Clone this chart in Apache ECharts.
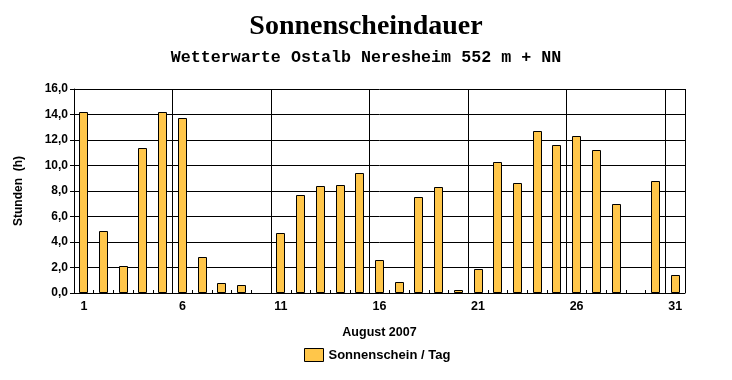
<!DOCTYPE html>
<html>
<head>
<meta charset="utf-8">
<script src="https://cdn.jsdelivr.net/npm/echarts@6/dist/echarts.min.js"></script>
<style>html,body{margin:0;padding:0;background:#fff}#c{width:732px;height:380px}</style>
</head>
<body>
<div id="c"></div>
<script>
var days = ['1','2','3','4','5','6','7','8','9','10','11','12','13','14','15','16','17','18','19','20','21','22','23','24','25','26','27','28','29','30','31'];
var sunshine = [14.2,4.9,2.1,11.4,14.2,13.7,2.8,0.8,0.6,0,4.7,7.7,8.4,8.5,9.4,2.6,0.9,7.5,8.3,0.2,1.9,10.3,8.6,12.7,11.6,12.3,11.2,7.0,0,8.8,1.4];
var yTicks = [0,2,4,6,8,10,12,14,16];

var barColor = '#FFC64A';

var barData = [];
sunshine.forEach(function (v, i) { if (v > 0) barData.push([i, v]); });

function renderBar(params, api) {
  var top = api.coord([api.value(0), api.value(1)]);
  var base = api.coord([api.value(0), 0]);
  var xl = Math.round(top[0] - 4.5) + 0.5;
  var yt = Math.round(top[1]) + 0.5;
  var yb = Math.round(base[1]) - 0.5;
  return {
    type: 'rect',
    shape: {x: xl, y: yt, width: 8, height: Math.max(yb - yt, 1)},
    style: {fill: barColor, stroke: '#000', lineWidth: 1}
  };
}

var chart = echarts.init(document.getElementById('c'));
chart.setOption({
  backgroundColor: '#fff',
  animation: false,
  title: [{
    text: 'Sonnenscheindauer',
    left: 'center', top: 8,
    textStyle: {fontFamily: 'Liberation Serif', fontWeight: 'bold', fontSize: 28, color: '#000'}
  }, {
    text: 'Wetterwarte Ostalb Neresheim 552 m + NN',
    left: 'center', top: 44,
    textStyle: {fontFamily: 'Liberation Mono', fontWeight: 'bold', fontSize: 16.7, color: '#000'}
  }],
  legend: {
    bottom: 13, left: 299,
    icon: 'rect',
    itemWidth: 19, itemHeight: 13, itemGap: 6,
    textStyle: {fontFamily: 'Liberation Sans', fontWeight: 'bold', fontSize: 13, color: '#000'},
    data: [{name: 'Sonnenschein / Tag', itemStyle: {color: barColor, borderColor: '#000', borderWidth: 1}}]
  },
  grid: {left: 74, right: 47, top: 89, bottom: 87, containLabel: false},
  xAxis: {
    type: 'category',
    data: days,
    name: 'August 2007',
    nameLocation: 'middle',
    nameGap: 33,
    nameTextStyle: {fontFamily: 'Liberation Sans', fontWeight: 'bold', fontSize: 12.5, color: '#000'},
    axisLine: {lineStyle: {color: '#000', width: 1}},
    axisTick: {show: true, inside: true, length: 3, lineStyle: {color: '#000'}, interval: 0},
    axisLabel: {
      interval: function (i) { return i % 5 === 0; },
      fontFamily: 'Liberation Sans', fontWeight: 'bold', fontSize: 12.5, color: '#000', margin: 7
    },
    splitLine: {show: true, interval: function (i) { return i > 0 && i % 5 === 0; }, lineStyle: {color: '#000', width: 1}}
  },
  yAxis: {
    type: 'value',
    min: yTicks[0], max: yTicks[yTicks.length - 1], interval: 2,
    name: 'Stunden  (h)',
    nameLocation: 'middle',
    nameRotate: 90,
    nameGap: 49,
    nameTextStyle: {fontFamily: 'Liberation Sans', fontWeight: 'bold', fontSize: 12, color: '#000'},
    axisLine: {show: true, lineStyle: {color: '#000', width: 1}},
    axisTick: {show: true, length: 4, lineStyle: {color: '#000'}},
    axisLabel: {
      formatter: function (v) { return v.toFixed(1).replace('.', ','); },
      fontFamily: 'Liberation Sans', fontWeight: 'bold', fontSize: 12, color: '#000', margin: 6
    },
    splitLine: {show: true, lineStyle: {color: '#000', width: 1}}
  },
  series: [{
    name: 'Sonnenschein / Tag',
    type: 'custom',
    renderItem: renderBar,
    data: barData,
    encode: {x: 0, y: 1},
    itemStyle: {color: barColor, borderColor: '#000', borderWidth: 1},
    z: 3
  }]
});
</script>
</body>
</html>
